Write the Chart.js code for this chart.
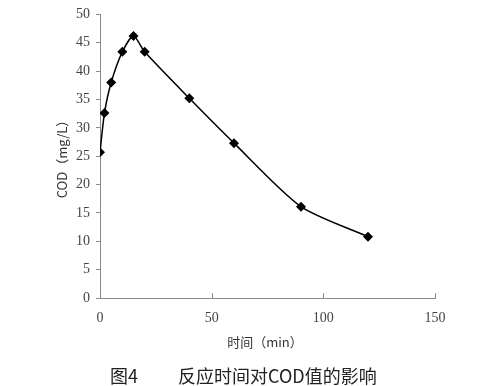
<!DOCTYPE html>
<html>
<head>
<meta charset="utf-8">
<script src="https://cdn.jsdelivr.net/npm/chart.js@4"></script>
<style>
  html, body { margin: 0; padding: 0; background: #fff; }
  #wrap { width: 498px; height: 386px; }
</style>
</head>
<body>
<div id="wrap"><canvas id="chart" width="498" height="386"></canvas></div>
<script>
// reaction time (min) and COD (mg/L)
const times = [0, 2, 5, 10, 15, 20, 40, 60, 90, 120];
const codValues = [25.7, 32.6, 38.0, 43.4, 46.2, 43.4, 35.2, 27.3, 16.1, 10.8];
const yTitle = 'COD（mg/L）';
const xTitle = '时间（min）';
const figLabel = '图4';
const figCaption = '反应时间对COD值的影响';

const axisColor = '#8a8a8a';
const serif = '"Liberation Serif", "DejaVu Serif", serif';
const cjk = '"Noto Sans CJK SC", sans-serif';

// titles, caption and inward x ticks
const decorations = {
    id: 'decorations',
    afterDraw(chart) {
        const ctx = chart.ctx;
        const xs = chart.scales.x;
        const area = chart.chartArea;
        ctx.save();
        ctx.strokeStyle = axisColor;
        ctx.lineWidth = 1;
        [50, 100, 150].forEach(v => {
            const px = Math.round(xs.getPixelForValue(v)) + 0.5;
            ctx.beginPath();
            ctx.moveTo(px, area.bottom);
            ctx.lineTo(px, area.bottom - 5);
            ctx.stroke();
        });

        ctx.fillStyle = '#333';
        ctx.textBaseline = 'middle';
        ctx.textAlign = 'center';
        ctx.font = '13px ' + cjk;
        ctx.fillText(xTitle, 265, 342);

        ctx.save();
        ctx.translate(62, 156);
        ctx.rotate(-Math.PI / 2);
        ctx.fillText(yTitle, 0, 0);
        ctx.restore();

        ctx.fillStyle = '#222';
        ctx.font = '18px ' + cjk;
        ctx.textAlign = 'left';
        ctx.fillText(figLabel, 110, 376);
        ctx.fillText(figCaption, 178, 376);
        ctx.restore();
    }
};

new Chart(document.getElementById('chart'), {
    type: 'line',
    data: {
        datasets: [{
            data: times.map((t, i) => ({ x: t, y: codValues[i] })),
            borderColor: '#000',
            borderWidth: 1.5,
            backgroundColor: '#000',
            pointStyle: 'rectRot',
            pointRadius: 5,
            pointBorderWidth: 0,
            tension: 0.25,
            fill: false
        }]
    },
    options: {
        responsive: false,
        animation: false,
        layout: { padding: { left: 40, right: 63, top: 8, bottom: 48 } },
        plugins: { legend: { display: false }, tooltip: { enabled: false } },
        scales: {
            x: {
                type: 'linear',
                min: 0,
                max: 150,
                afterFit: s => { s.height = 40; },
                border: { color: axisColor, width: 1 },
                grid: { display: true, drawOnChartArea: false, drawTicks: false },
                ticks: {
                    stepSize: 50,
                    padding: 12,
                    color: '#444',
                    font: { family: serif, size: 14 }
                }
            },
            y: {
                min: 0,
                max: 50,
                afterFit: s => { s.width = 60; },
                border: { color: axisColor, width: 1 },
                grid: { drawOnChartArea: false, tickLength: 4, color: axisColor },
                ticks: {
                    stepSize: 5,
                    padding: 6,
                    color: '#444',
                    font: { family: serif, size: 14 }
                }
            }
        }
    },
    plugins: [decorations]
});
</script>
</body>
</html>
